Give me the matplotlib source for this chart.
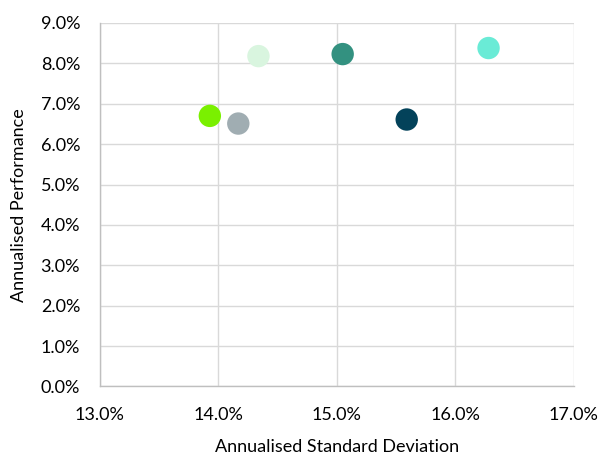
import matplotlib
matplotlib.use("Agg")
import matplotlib.pyplot as plt
from matplotlib.ticker import FuncFormatter, MultipleLocator

std_dev = [14.34, 15.05, 16.28, 13.93, 14.17, 15.59]
performance = [8.18, 8.23, 8.38, 6.70, 6.51, 6.61]
colors = ["#d9f5df", "#339180", "#6aebd6", "#7af000", "#a0adb2", "#03425a"]

plt.rcParams['font.family'] = ['Lato', 'DejaVu Sans']

fig = plt.figure(figsize=(6.08, 4.57), dpi=100)
ax = fig.add_axes([0.1637, 0.1543, 0.7803, 0.7954])

ax.scatter(std_dev, performance, s=260, c=colors, zorder=3, linewidths=0)

ax.set_xlim(13, 17)
ax.set_ylim(0, 9)
ax.xaxis.set_major_locator(MultipleLocator(1))
ax.yaxis.set_major_locator(MultipleLocator(1))
fmt = FuncFormatter(lambda v, p: f"{v:.1f}%")
ax.xaxis.set_major_formatter(fmt)
ax.yaxis.set_major_formatter(fmt)

ax.grid(True, color="#d9d9d9", linewidth=1.0, zorder=0)
ax.set_axisbelow(True)
for s in ["top", "right"]:
    ax.spines[s].set_visible(False)
for s in ["left", "bottom"]:
    ax.spines[s].set_color("#bfbfbf")
    ax.spines[s].set_linewidth(1.0)
ax.tick_params(length=0, labelsize=13, colors="#000000")
ax.tick_params(axis="y", pad=14)
ax.tick_params(axis="x", pad=15)

ax.set_xlabel("Annualised Standard Deviation", fontsize=13)
ax.set_ylabel("Annualised Performance", fontsize=13)
ax.xaxis.set_label_coords(0.5, -0.145)
ax.yaxis.set_label_coords(-0.152, 0.5)

fig.savefig("out.png", dpi=100)
